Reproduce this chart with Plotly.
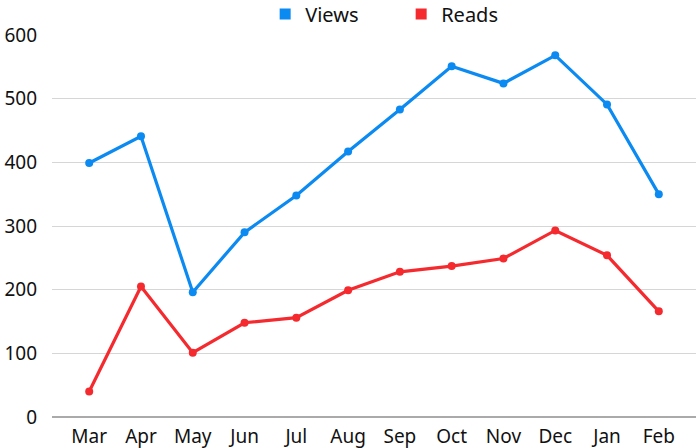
import plotly.graph_objects as go

months = ["Mar", "Apr", "May", "Jun", "Jul", "Aug", "Sep", "Oct", "Nov", "Dec", "Jan", "Feb"]
views = [399, 441, 196, 290, 348, 417, 483, 551, 524, 568, 491, 350]
reads = [40, 205, 101, 148, 156, 199, 228, 237, 249, 293, 254, 166]
y_ticks = [0, 100, 200, 300, 400, 500, 600]

blue = "#0b8af2"
red = "#f52a2f"

fig = go.Figure()
fig.add_trace(go.Scatter(x=months, y=views, name="Views", mode="lines+markers", showlegend=False,
                         line=dict(color=blue, width=3.2), marker=dict(color=blue, size=8)))
fig.add_trace(go.Scatter(x=months, y=reads, name="Reads", mode="lines+markers", showlegend=False,
                         line=dict(color=red, width=3.2), marker=dict(color=red, size=8)))
# legend entries with square symbols
fig.add_trace(go.Scatter(x=[None], y=[None], name="Views", mode="markers",
                         marker=dict(color=blue, size=11, symbol="square")))
fig.add_trace(go.Scatter(x=[None], y=[None], name="Reads", mode="markers",
                         marker=dict(color=red, size=11, symbol="square")))

fig.update_layout(
    width=700, height=448,
    margin=dict(l=52, r=4, t=35, b=31, autoexpand=False),
    paper_bgcolor="white", plot_bgcolor="white",
    font=dict(family="Noto Sans", size=20, color="#111111"),
    legend=dict(orientation="h", x=0.331, xanchor="left", y=1.055, yanchor="middle",
                font=dict(size=20), itemwidth=30,
                entrywidthmode="pixels", entrywidth=91, bgcolor="rgba(0,0,0,0)"),
    showlegend=True,
)
fig.update_xaxes(type="category", showgrid=False, showline=False, ticks="",
                 tickfont=dict(size=19), zeroline=False, ticklabelstandoff=6)
fig.update_yaxes(range=[0, 600], tickvals=y_ticks, showgrid=True, gridcolor="#d6d6d6",
                 gridwidth=1.2, zeroline=True, zerolinecolor="#aaaaaa", zerolinewidth=1.5,
                 ticks="", tickfont=dict(size=19), showline=False, ticklabelstandoff=14)

fig.write_html("out.html")
